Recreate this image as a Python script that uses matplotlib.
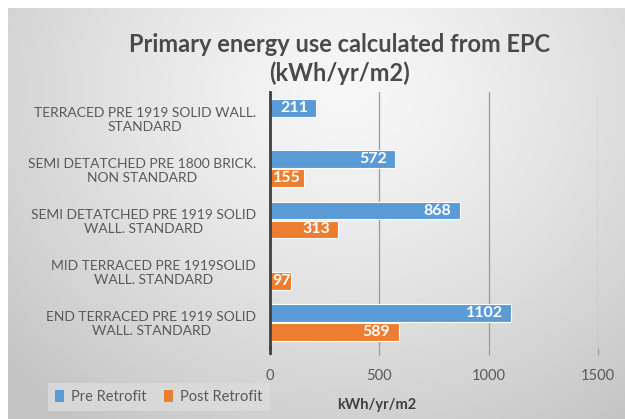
import numpy as np
import matplotlib
matplotlib.use('Agg')
import matplotlib.pyplot as plt
from matplotlib.patches import Patch

plt.rcParams['font.family'] = ['Lato', 'DejaVu Sans']

categories = [
    'TERRACED PRE 1919 SOLID WALL.\nSTANDARD',
    'SEMI DETATCHED PRE 1800 BRICK.\nNON STANDARD',
    'SEMI DETATCHED PRE 1919 SOLID\nWALL. STANDARD',
    'MID TERRACED PRE 1919SOLID\nWALL. STANDARD',
    'END TERRACED PRE 1919 SOLID\nWALL. STANDARD',
]
pre_retrofit = [211, 572, 868, np.nan, 1102]
post_retrofit = [np.nan, 155, 313, 97, 589]
x_ticks = [0, 500, 1000, 1500]

BLUE = '#5b9bd5'
ORANGE = '#ed7d31'
TXT = '#595959'

fig = plt.figure(figsize=(6.25, 4.19), dpi=100)
fig.patch.set_facecolor('white')

# radial grey background of the chart area
bg = fig.add_axes([8 / 625, 0, 617 / 625, 411 / 419], zorder=-1)
gx, gy = np.meshgrid(np.linspace(0, 1, 300), np.linspace(0, 1, 200))
r = np.sqrt(((gx - 0.55) * 1.0) ** 2 + ((gy - 0.2) * 0.75) ** 2)
shade = 0.97 - 0.2 * np.clip(r / 0.75, 0, 1) ** 1.3
bg.imshow(np.dstack([shade] * 3), aspect='auto', extent=[0, 1, 1, 0])
bg.set_axis_off()

ax = fig.add_axes([270 / 625, 1 - 348 / 419, 328 / 625, 256 / 419])
ax.set_facecolor('none')

y = np.arange(len(categories))
h = 0.35
off = 0.185
ax.barh(y - off, pre_retrofit, height=h, color=BLUE, edgecolor='white', linewidth=0.8, zorder=3)
ax.barh(y + off, post_retrofit, height=h, color=ORANGE, edgecolor='white', linewidth=0.8, zorder=3)

for vals, dy in ((pre_retrofit, -off), (post_retrofit, off)):
    for i, v in enumerate(vals):
        if np.isnan(v):
            continue
        if v < 200:
            ax.annotate(f'{v:.0f}', (0, i + dy), xytext=(2, 0), textcoords='offset points',
                        ha='left', va='center', color='white', fontsize=11.5,
                        fontweight='bold', zorder=4)
        else:
            ax.annotate(f'{v:.0f}', (v, i + dy), xytext=(-6, 0), textcoords='offset points',
                        ha='right', va='center', color='white', fontsize=11.5,
                        fontweight='bold', zorder=4)

ax.set_xlim(0, 1500)
ax.set_ylim(len(categories) - 0.5, -0.5)
ax.set_xticks(x_ticks)
ax.set_xticklabels([str(t) for t in x_ticks])
ax.set_yticks(y)
ax.set_yticklabels(categories, multialignment='center')
ax.tick_params(axis='y', length=0, pad=10, labelsize=10, labelcolor=TXT)
ax.tick_params(axis='x', length=5, width=0.9, color='#9a9a9a', pad=10, labelsize=10.5, labelcolor=TXT)
ax.grid(axis='x', color='#9a9a9a', linewidth=0.9, zorder=0)
for sp in ax.spines.values():
    sp.set_visible(False)
ax.axvline(0, color='#404040', linewidth=2, zorder=5, clip_on=False)
ax.plot([0, 0], [len(categories) - 0.5, len(categories) - 0.4], color='#404040',
        linewidth=2, clip_on=False, zorder=5)

fig.text(340 / 625, 1 - 59 / 419, 'Primary energy use calculated from EPC\n(kWh/yr/m2)',
         ha='center', va='center', fontsize=17, fontweight='bold', color='#4a4a4a',
         linespacing=1.3)
fig.text(377 / 625, 1 - 405 / 419, 'kWh/yr/m2', ha='center', va='center',
         fontsize=10.5, fontweight='bold', color='#404040')

handles = [Patch(facecolor=BLUE, label='Pre Retrofit'), Patch(facecolor=ORANGE, label='Post Retrofit')]
leg = fig.legend(handles=handles, loc='center', bbox_to_anchor=(159 / 625, 1 - 397 / 419),
                 ncol=2, frameon=True, fontsize=10.5, handlelength=0.6, handleheight=0.9,
                 handletextpad=0.5, columnspacing=1.2, borderpad=0.5, fancybox=False)
leg.get_frame().set_facecolor('#dcdcdc')
leg.get_frame().set_edgecolor('none')
for t in leg.get_texts():
    t.set_color(TXT)

fig.savefig('out.png', dpi=100)
